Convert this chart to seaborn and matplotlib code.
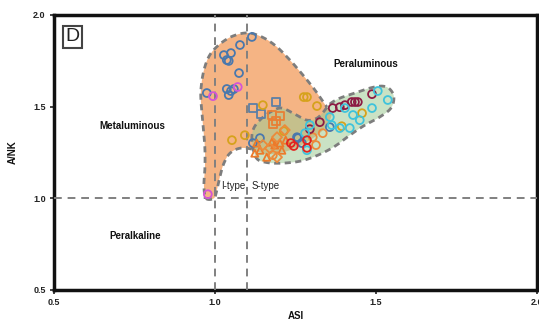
import numpy as np
import pandas as pd
import matplotlib
matplotlib.use("Agg")
import matplotlib.pyplot as plt
import seaborn as sns
from matplotlib.patches import Polygon

sns.set_theme(style="white")
plt.rcParams['font.family'] = ['Liberation Sans', 'DejaVu Sans']

# ---------------- data ----------------
# Field outlines (ASI, A/NK)
orange_asi = [1.115, 1.078, 1.047, 1.028, 1.016, 1.006, 0.997, 0.972, 0.966, 0.969, 0.969,
              0.963, 0.957, 0.957, 0.966, 0.984, 1.016, 1.056, 1.102, 1.146, 1.189, 1.233,
              1.276, 1.311, 1.332, 1.348, 1.363, 1.342, 1.295, 1.233, 1.165]
orange_ank = [1.268, 1.273, 1.246, 1.191, 1.120, 1.044, 1.000, 1.000, 1.071, 1.164, 1.273,
              1.399, 1.519, 1.601, 1.699, 1.781, 1.842, 1.885, 1.902, 1.880, 1.831, 1.754,
              1.667, 1.590, 1.536, 1.497, 1.459, 1.383, 1.317, 1.262, 1.240]
orange_visible = 25  # outline drawn from vertex 0 to this vertex

green_asi = [1.115, 1.121, 1.146, 1.177, 1.208, 1.248, 1.286, 1.317, 1.339, 1.357, 1.388,
             1.435, 1.481, 1.519, 1.543, 1.556, 1.547, 1.512, 1.466, 1.419, 1.373, 1.320,
             1.264, 1.202, 1.155, 1.127]
green_ank = [1.317, 1.383, 1.437, 1.475, 1.492, 1.459, 1.426, 1.437, 1.475, 1.514, 1.546,
             1.574, 1.601, 1.612, 1.596, 1.552, 1.492, 1.443, 1.399, 1.344, 1.284, 1.235,
             1.202, 1.191, 1.197, 1.224]

# Samples
blue_asi = [1.115, 1.078, 1.028, 1.050, 1.037, 1.043, 1.075, 1.037, 1.050, 1.059, 1.043,
            0.975, 1.140, 1.118, 1.258, 1.270, 1.255, 1.357]
blue_ank = [1.880, 1.836, 1.781, 1.792, 1.754, 1.749, 1.683, 1.596, 1.585, 1.596, 1.563,
            1.574, 1.328, 1.301, 1.328, 1.301, 1.333, 1.388]

magenta_asi = [1.071, 0.994, 0.978]
magenta_ank = [1.607, 1.557, 1.022]

slate_sq_asi = [1.189, 1.118, 1.143]
slate_sq_ank = [1.525, 1.492, 1.459]

gold_asi = [1.053, 1.093, 1.276, 1.286, 1.149, 1.317, 1.214, 1.457, 1.394]
gold_ank = [1.317, 1.344, 1.552, 1.552, 1.508, 1.503, 1.366, 1.464, 1.393]

orange_sq_asi = [1.177, 1.202, 1.189, 1.180]
orange_sq_ank = [1.454, 1.448, 1.421, 1.404]

orange_tri_asi = [1.140, 1.177, 1.202, 1.208, 1.161, 1.130, 1.124, 1.220, 1.186]
orange_tri_ank = [1.262, 1.306, 1.301, 1.262, 1.224, 1.301, 1.246, 1.317, 1.290]

orange_dia_asi = [1.217, 1.149, 1.193, 1.193, 1.171]
orange_dia_ank = [1.372, 1.290, 1.333, 1.224, 1.273]

orange_ci_asi = [1.180, 1.314, 1.304, 1.335]
orange_ci_ank = [1.235, 1.290, 1.333, 1.355]

red_asi = [1.236, 1.245, 1.286, 1.286]
red_ank = [1.301, 1.285, 1.317, 1.275]

maroon_asi = [1.366, 1.388, 1.404, 1.425, 1.435, 1.444, 1.488, 1.326, 1.295]
maroon_ank = [1.492, 1.497, 1.508, 1.525, 1.525, 1.525, 1.568, 1.415, 1.377]

cyan_asi = [1.506, 1.537, 1.488, 1.429, 1.450, 1.419, 1.357, 1.280, 1.363, 1.286, 1.404,
            1.388, 1.295]
cyan_ank = [1.585, 1.536, 1.492, 1.454, 1.426, 1.383, 1.443, 1.355, 1.399, 1.262, 1.492,
            1.383, 1.399]

region_labels = ["Metaluminous", "Peraluminous", "Peralkaline"]
type_labels = ["I-type", "S-type"]


def smooth_closed(xs, ys, n=12):
    P = np.column_stack([xs, ys])
    m = len(P)
    out = []
    t = np.linspace(0, 1, n, endpoint=False)[:, None]
    for i in range(m):
        p0, p1, p2, p3 = P[(i - 1) % m], P[i], P[(i + 1) % m], P[(i + 2) % m]
        pt = 0.5 * ((2 * p1) + (-p0 + p2) * t + (2 * p0 - 5 * p1 + 4 * p2 - p3) * t ** 2
                    + (-p0 + 3 * p1 - 3 * p2 + p3) * t ** 3)
        out.append(pt)
    out = np.vstack(out)
    return out, n


fig = plt.figure(figsize=(5.39, 3.25), dpi=100)
ax = fig.add_axes([0.100, 0.108, 0.896, 0.846])
ax.set_xlim(0.5, 2.0)
ax.set_ylim(0.5, 2.0)

dash_col = "#7d7d7d"
# orange field
oc, n = smooth_closed(orange_asi, orange_ank)
ax.add_patch(Polygon(oc, closed=True, facecolor="#f5b484", edgecolor="none", zorder=1))
ovis = oc[: orange_visible * n + 1]
ax.plot(ovis[:, 0], ovis[:, 1], color=dash_col, lw=2.0, dashes=(2.2, 1.6), zorder=2)
# green field
gc, n = smooth_closed(green_asi, green_ank)
ax.add_patch(Polygon(gc, closed=True, facecolor="#9fcb94", alpha=0.55, edgecolor="none", zorder=3))
gcl = np.vstack([gc, gc[:1]])
ax.plot(gcl[:, 0], gcl[:, 1], color=dash_col, lw=2.0, dashes=(2.2, 1.6), zorder=4)

# reference lines
ax.axhline(1.0, color="#808080", lw=1.4, dashes=(4, 3), zorder=5)
ax.axvline(1.0, color="#808080", lw=1.4, dashes=(4, 3), zorder=5)
ax.axvline(1.1, color="#808080", lw=1.4, dashes=(4, 3), zorder=5)

groups = [
    (blue_asi, blue_ank, "#4a78ad", "o"),
    (magenta_asi, magenta_ank, "#d455d6", "o"),
    (slate_sq_asi, slate_sq_ank, "#5d7fa6", "s"),
    (gold_asi, gold_ank, "#d6a21c", "o"),
    (orange_sq_asi, orange_sq_ank, "#e97f35", "s"),
    (orange_tri_asi, orange_tri_ank, "#ec7a2a", "^"),
    (orange_dia_asi, orange_dia_ank, "#ec8a3a", "D"),
    (orange_ci_asi, orange_ci_ank, "#ec8a3a", "o"),
    (maroon_asi, maroon_ank, "#8c1b44", "o"),
    (cyan_asi, cyan_ank, "#3fc3dc", "o"),
    (red_asi, red_ank, "#e3231f", "o"),
]
for xs, ys, col, mk in groups:
    df = pd.DataFrame({"ASI": xs, "A/NK": ys})
    size = 32 if mk == "o" else (36 if mk == "s" else 26)
    sns.scatterplot(data=df, x="ASI", y="A/NK", ax=ax, marker=mk, s=size, color=col,
                    facecolor="none", edgecolor=col, linewidth=1.3, zorder=6, legend=False)

# texts
fs = 7
ax.text(0.742, 1.393, region_labels[0], fontsize=fs, fontweight="bold", ha="center", va="center", color="#111")
ax.text(1.469, 1.732, region_labels[1], fontsize=fs, fontweight="bold", ha="center", va="center", color="#111")
ax.text(0.752, 0.792, region_labels[2], fontsize=fs, fontweight="bold", ha="center", va="center", color="#111")
ax.text(1.056, 1.066, type_labels[0], fontsize=7, ha="center", va="center", color="#222", zorder=7)
ax.text(1.158, 1.066, type_labels[1], fontsize=7, ha="center", va="center", color="#222", zorder=7)
ax.text(0.039, 0.92, "D", transform=ax.transAxes, fontsize=14, ha="center", va="center", color="#222",
        bbox=dict(boxstyle="square,pad=0.12", fc="white", ec="#444", lw=1.5), zorder=8)

ticks = [0.5, 1.0, 1.5, 2.0]
ax.set_xticks(ticks)
ax.set_yticks(ticks)
ax.set_xticklabels([f"{t:.1f}" for t in ticks])
ax.set_yticklabels([f"{t:.1f}" for t in ticks])
ax.tick_params(direction="out", length=3, width=1.2, labelsize=6.5, pad=3, colors="#222",
               bottom=True, left=True)
for lab in ax.get_xticklabels() + ax.get_yticklabels():
    lab.set_fontweight("bold")
for sp in ax.spines.values():
    sp.set_linewidth(2.5)
    sp.set_color("#111")
ax.set_xlabel("ASI", fontsize=7, fontweight="bold", labelpad=3, color="#111")
ax.set_ylabel("A/NK", fontsize=7, fontweight="bold", labelpad=11, color="#111")
ax.grid(False)

fig.savefig("out.png", dpi=100)
